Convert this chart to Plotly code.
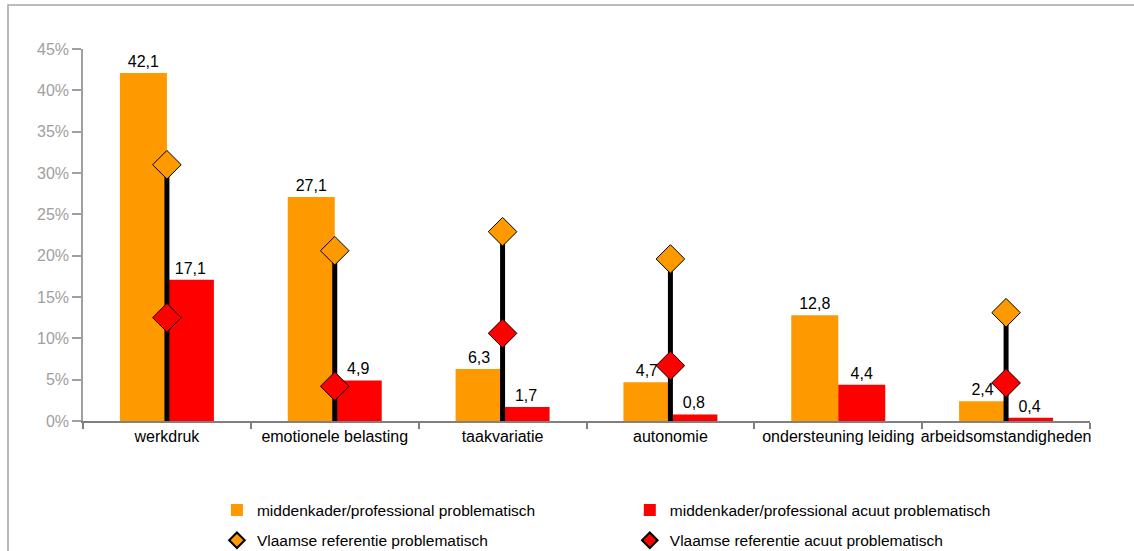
import plotly.graph_objects as go

categories = ["werkdruk", "emotionele belasting", "taakvariatie", "autonomie",
              "ondersteuning leiding", "arbeidsomstandigheden"]
mk_problematisch = [42.1, 27.1, 6.3, 4.7, 12.8, 2.4]
mk_acuut = [17.1, 4.9, 1.7, 0.8, 4.4, 0.4]
vl_problematisch = [31.0, 20.6, 22.9, 19.6, None, 13.1]
vl_acuut = [12.5, 4.2, 10.6, 6.7, None, 4.6]
y_ticks = [0, 5, 10, 15, 20, 25, 30, 35, 40, 45]
y_ticktext = [f"{v}%" for v in y_ticks]

ORANGE = "#FF9900"
RED = "#FF0000"
FONT = "Liberation Sans, Arial, sans-serif"

fig = go.Figure()

fig.add_trace(go.Bar(
    x=categories, y=mk_problematisch, name="middenkader/professional problematisch",
    marker=dict(color=ORANGE, line=dict(width=0)),
    texttemplate="%{y:.1f}", textposition="outside",
    textfont=dict(color="black", size=16, family=FONT),
    cliponaxis=False, legend="legend", legendgroup="a",
))
fig.add_trace(go.Bar(
    x=categories, y=mk_acuut, name="middenkader/professional acuut problematisch",
    marker=dict(color=RED, line=dict(width=0)),
    texttemplate="%{y:.1f}", textposition="outside",
    textfont=dict(color="black", size=16, family=FONT),
    cliponaxis=False, legend="legend2", legendgroup="b",
))
fig.add_trace(go.Scatter(
    x=categories, y=vl_problematisch, name="Vlaamse referentie problematisch",
    mode="markers",
    marker=dict(symbol="diamond", size=22, color=ORANGE, line=dict(color="black", width=1)),
    error_y=dict(type="data", symmetric=False,
                 array=[0 if v is not None else None for v in vl_problematisch],
                 arrayminus=vl_problematisch, color="black", thickness=5, width=0),
    cliponaxis=False, legend="legend", legendgroup="c",
))
fig.add_trace(go.Scatter(
    x=categories, y=vl_acuut, name="Vlaamse referentie acuut problematisch",
    mode="markers",
    marker=dict(symbol="diamond", size=22, color=RED, line=dict(color="black", width=1)),
    cliponaxis=False, legend="legend2", legendgroup="d",
))

legend_common = dict(
    orientation="v", yanchor="top", xanchor="left",
    font=dict(size=15.5, color="black", family=FONT),
    bgcolor="rgba(0,0,0,0)", tracegroupgap=7, itemwidth=30,
    itemsizing="constant",
)

fig.update_layout(
    width=1134, height=551,
    margin=dict(l=83, r=44, t=49, b=130, autoexpand=False),
    plot_bgcolor="white", paper_bgcolor="white",
    separators=",.",
    barmode="group", bargap=0.44, bargroupgap=0,
    font=dict(family=FONT, size=16, color="black"),
    showlegend=True,
    legend=dict(x=0.133, y=-0.195, **legend_common),
    legend2=dict(x=0.543, y=-0.195, **legend_common),
    xaxis=dict(
        type="category", tickson="boundaries", ticks="outside", ticklen=6,
        tickcolor="#808080", tickwidth=1.5, tickangle=0, automargin=False,
        showline=True, linecolor="#808080", linewidth=2,
        showgrid=False, tickfont=dict(size=16, color="black", family=FONT),
    ),
    yaxis=dict(
        range=[0, 45], tickmode="array", tickvals=y_ticks, ticktext=y_ticktext,
        ticks="outside", ticklen=9, tickcolor="#A0A0A0", tickwidth=1.5,
        showline=True, linecolor="#A0A0A0", linewidth=1.5, automargin=False,
        showgrid=False, zeroline=False,
        tickfont=dict(size=16, color="#A0A0A0", family=FONT),
    ),
    shapes=[dict(
        type="rect", xref="paper", yref="paper",
        x0=(8 - 83) / 1007, x1=1.2, y0=-0.6, y1=1 + (49 - 5) / 372,
        line=dict(color="#A6A6A6", width=1.5), fillcolor="rgba(0,0,0,0)", layer="below",
    )],
)

fig.write_html("out.html", config={"displayModeBar": False},
               post_script="document.body.style.margin='0';document.body.style.overflow='hidden';")
